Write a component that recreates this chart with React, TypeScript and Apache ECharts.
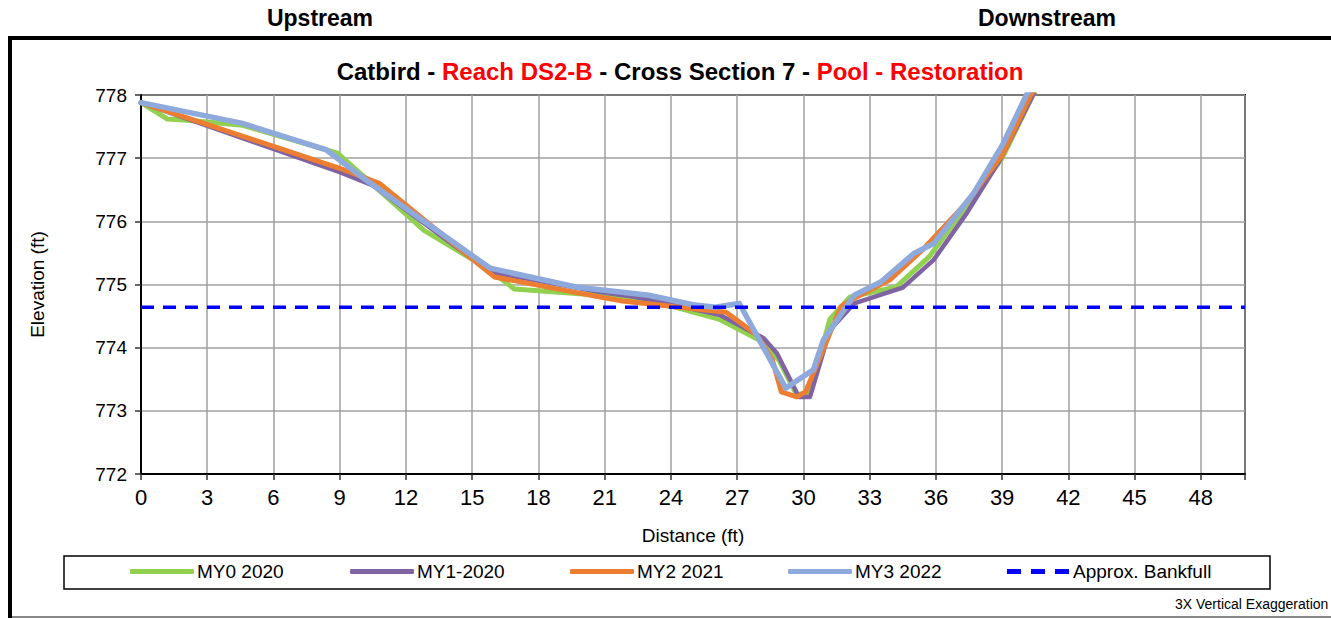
import React, { useEffect, useRef } from "react";
import * as echarts from "echarts";

const FONT = 'Arial, "Liberation Sans", sans-serif';

const xTicks = [0, 3, 6, 9, 12, 15, 18, 21, 24, 27, 30, 33, 36, 39, 42, 45, 48];
const yTicks = [772, 773, 774, 775, 776, 777, 778];

const my0Dist = [0, 1.2, 2.1, 4.6, 8.9, 10.6, 12.2, 12.8, 15.8, 16.9, 20.8, 24.1, 26.2, 28.0, 28.9, 29.7, 30.3, 31.2, 32.1, 34.2, 35.7, 37.4, 39.0, 40.4, 41.0];
const my0Elev = [777.88, 777.62, 777.6, 777.52, 777.08, 776.55, 776.05, 775.86, 775.23, 774.93, 774.83, 774.65, 774.45, 774.12, 773.8, 773.25, 773.3, 774.45, 774.8, 774.96, 775.44, 776.25, 777.0, 778.0, 778.4];

const my1Dist = [0, 9.0, 10.5, 15.8, 20.8, 22.4, 24.1, 26.2, 28.2, 28.8, 29.8, 30.3, 31.2, 32.3, 34.5, 35.9, 37.4, 38.9, 40.4, 41.0];
const my1Elev = [777.88, 776.78, 776.57, 775.2, 774.88, 774.8, 774.68, 774.52, 774.15, 773.91, 773.22, 773.22, 774.28, 774.7, 774.95, 775.39, 776.13, 776.97, 778.0, 778.4];

const my2Dist = [0, 9.0, 10.8, 16.0, 20.8, 21.8, 24.1, 26.5, 27.9, 28.6, 29.0, 29.7, 30.1, 31.7, 32.3, 33.9, 35.4, 37.4, 39.0, 40.3, 41.0];
const my2Elev = [777.88, 776.84, 776.6, 775.12, 774.8, 774.74, 774.65, 774.56, 774.2, 773.8, 773.3, 773.22, 773.3, 774.65, 774.78, 775.07, 775.55, 776.3, 777.05, 778.0, 778.4];

const my3Dist = [0, 4.6, 8.4, 10.2, 15.8, 19.7, 23.0, 25.0, 26.0, 27.1, 29.2, 30.45, 30.9, 32.3, 33.5, 35.0, 35.9, 37.7, 39.05, 40.1, 41.0];
const my3Elev = [777.88, 777.55, 777.13, 776.65, 775.26, 774.96, 774.83, 774.68, 774.64, 774.7, 773.36, 773.65, 774.12, 774.83, 775.04, 775.49, 775.65, 776.44, 777.23, 778.0, 778.5];

const bankfullDist = [0, 50];
const bankfullElev = [774.64, 774.64];

const seriesNames = ["MY0 2020", "MY1-2020", "MY2 2021", "MY3 2022", "Approx. Bankfull"];
const seriesColors = ["#92D050", "#8064A2", "#ED7D31", "#8EA9DB", "#0000FF"];
const seriesWidths = [5, 4.5, 5, 5.5, 3.5];
const legendLefts = [130, 350, 570, 788, 1007];

const zip = (xs: number[], ys: number[]) => xs.map((x, i) => [x, ys[i]]);

const DASH_ICON = "path://M0,0H14V5H0Z M24,0H38V5H24Z M48,0H62V5H48Z";

export default function App() {
  const ref = useRef<HTMLDivElement>(null);
  useEffect(() => {
    if (!ref.current) return;
    const chart = echarts.init(ref.current, undefined, { renderer: "svg" });
    const datasets = [
      zip(my0Dist, my0Elev),
      zip(my1Dist, my1Elev),
      zip(my2Dist, my2Elev),
      zip(my3Dist, my3Elev),
      zip(bankfullDist, bankfullElev),
    ];
    const series = datasets.map((d, i) => ({
      name: seriesNames[i],
      type: "line",
      data: d,
      symbol: "none",
      showSymbol: false,
      clip: true,
      color: seriesColors[i],
      lineStyle: i === 4
        ? { color: seriesColors[i], width: seriesWidths[i], type: [13, 9] }
        : { color: seriesColors[i], width: seriesWidths[i], cap: "round", join: "round" },
      z: 3 + i,
    }));
    chart.setOption({
      animation: false,
      backgroundColor: "#ffffff",
      textStyle: { fontFamily: FONT },
      grid: {
        left: 141, top: 95, right: 86, bottom: 144,
        show: true, borderColor: "#000", borderWidth: 2, backgroundColor: "transparent",
      },
      xAxis: {
        type: "value", min: 0, max: 50, interval: 3,
        name: "Distance (ft)", nameLocation: "middle", nameGap: 52,
        nameTextStyle: { fontSize: 19, color: "#000", fontFamily: FONT },
        axisLine: { show: true, lineStyle: { color: "#000", width: 2 } },
        axisTick: { show: true, length: 6, lineStyle: { color: "#333", width: 1.5 } },
        axisLabel: {
          fontSize: 22, color: "#000", fontFamily: FONT, margin: 12,
          formatter: (v: number) => (xTicks.includes(v) ? String(v) : ""),
        },
        splitLine: { show: true, lineStyle: { color: "#a0a0a0", width: 1.5 } },
      },
      yAxis: {
        type: "value", min: 772, max: 778, interval: 1,
        name: "Elevation (ft)", nameLocation: "middle", nameGap: 94, nameRotate: 90,
        nameTextStyle: { fontSize: 19, color: "#000", fontFamily: FONT },
        axisLine: { show: true, lineStyle: { color: "#000", width: 2 } },
        axisTick: { show: true, length: 6, lineStyle: { color: "#333", width: 1.5 } },
        axisLabel: {
          fontSize: 19, color: "#000", fontFamily: FONT, margin: 14,
          formatter: (v: number) => (yTicks.includes(v) ? String(v) : ""),
        },
        splitLine: { show: true, lineStyle: { color: "#a0a0a0", width: 1.5 } },
      },
      legend: seriesNames.map((n, i) => ({
        data: [{ name: n, icon: i === 4 ? DASH_ICON : "roundRect" }],
        left: legendLefts[i],
        top: 562,
        itemWidth: 64,
        itemHeight: 5,
        itemGap: 0,
        selectedMode: false,
        itemStyle: { color: seriesColors[i], borderWidth: 0 },
        lineStyle: { width: 0 },
        textStyle: { fontSize: 19, color: "#000", fontFamily: FONT, padding: [0, 0, 0, -2] },
        padding: 0,
      })),
      graphic: [
        { type: "line", shape: { x1: 10, y1: 36, x2: 10, y2: 618 }, style: { stroke: "#000", lineWidth: 4 } },
        { type: "line", shape: { x1: 8, y1: 38, x2: 1331, y2: 38 }, style: { stroke: "#000", lineWidth: 4 } },
        { type: "line", shape: { x1: 12, y1: 617, x2: 1331, y2: 617 }, style: { stroke: "#888", lineWidth: 2 } },
        {
          type: "text", x: 320, y: 18,
          style: { text: "Upstream", fill: "#000", font: `bold 23px ${FONT}`, align: "center", verticalAlign: "middle" },
        },
        {
          type: "text", x: 1047, y: 18,
          style: { text: "Downstream", fill: "#000", font: `bold 23px ${FONT}`, align: "center", verticalAlign: "middle" },
        },
        {
          type: "text", x: 680, y: 71,
          style: {
            text: "{b|Catbird - }{r|Reach DS2-B}{b| - Cross Section 7 - }{r|Pool - Restoration}",
            align: "center", verticalAlign: "middle",
            rich: {
              b: { fontSize: 24, fontWeight: "bold", fill: "#000", color: "#000", fontFamily: FONT },
              r: { fontSize: 24, fontWeight: "bold", fill: "#FF0000", color: "#FF0000", fontFamily: FONT },
            },
          },
        },
        {
          type: "rect", shape: { x: 64, y: 556, width: 1206, height: 33 },
          style: { fill: "none", stroke: "#000", lineWidth: 1.5 }, z: 0,
        },
        {
          type: "text", x: 1175, y: 604,
          style: { text: "3X Vertical Exaggeration", fontSize: 14, fill: "#000", fontFamily: FONT, align: "left", verticalAlign: "middle" },
        },
      ],
      series,
    });
    return () => chart.dispose();
  }, []);
  return (
    <div
      ref={ref}
      style={{ position: "fixed", left: 0, top: 0, width: 1331, height: 618, background: "#fff" }}
    />
  );
}
